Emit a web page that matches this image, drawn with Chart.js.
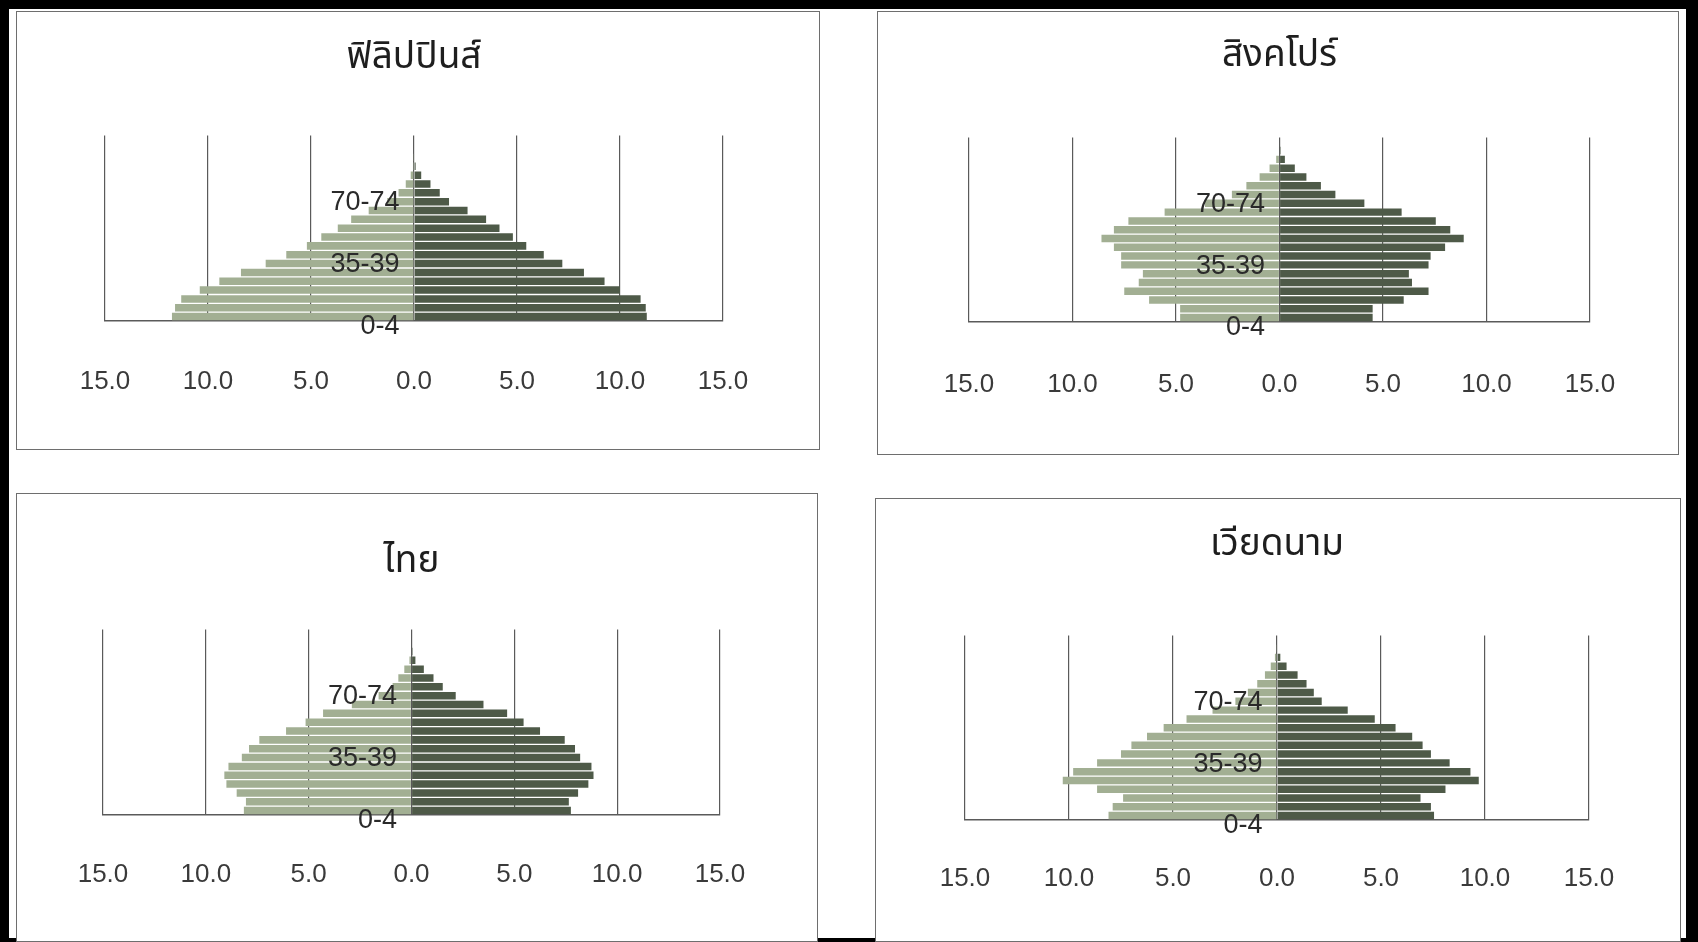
<!DOCTYPE html>
<html lang="th">
<head>
<meta charset="utf-8">
<title>Population pyramids</title>
<script src="https://cdn.jsdelivr.net/npm/chart.js@4.4.1/dist/chart.umd.min.js"></script>
<style>
  html, body { margin: 0; padding: 0; background: #fff; }
  body { width: 1698px; height: 942px; position: relative; overflow: hidden; }
  .frame { position: absolute; left: 0; top: 0; width: 1698px; height: 942px; box-sizing: border-box;
           border: 9px solid #000; border-right-width: 12px; border-bottom-width: 4px; }
  .panel { position: absolute; box-sizing: border-box; border: 1.5px solid #6e6e6e; background: #fff; }
  .chart { position: absolute; }
</style>
</head>
<body>
<div class="frame"></div>
<div class="panel" style="left:16px;top:11px;width:804px;height:439px"></div>
<div class="panel" style="left:877px;top:11px;width:802px;height:444px"></div>
<div class="panel" style="left:16px;top:493px;width:802px;height:449px"></div>
<div class="panel" style="left:875px;top:498px;width:806px;height:444px"></div>

<div class="chart" style="left:16px;top:11px;width:804px;height:439px"><canvas id="phChart"></canvas></div>
<div class="chart" style="left:877px;top:11px;width:802px;height:444px"><canvas id="sgChart"></canvas></div>
<div class="chart" style="left:16px;top:493px;width:802px;height:447px"><canvas id="thChart"></canvas></div>
<div class="chart" style="left:875px;top:498px;width:806px;height:442px"><canvas id="vnChart"></canvas></div>

<script>
const ageGroups = ['0-4', '5-9', '10-14', '15-19', '20-24', '25-29', '30-34', '35-39', '40-44', '45-49',
    '50-54', '55-59', '60-64', '65-69', '70-74', '75-79', '80-84', '85-89', '90-94', '95-99', '100+'];

const xTicks = [-15, -10, -5, 0, 5, 10, 15];

// percent of population, left side / right side, from 0-4 upwards
const philippinesLeft = [11.75, 11.6, 11.3, 10.4, 9.45, 8.4, 7.2, 6.2, 5.2, 4.5, 3.7, 3.05, 2.2, 1.3, 0.75, 0.4, 0.16, 0.05, 0.02, 0, 0];
const philippinesRight = [11.3, 11.25, 11.0, 10.0, 9.25, 8.25, 7.2, 6.3, 5.45, 4.8, 4.15, 3.5, 2.6, 1.7, 1.25, 0.8, 0.35, 0.08, 0.03, 0, 0];

const singaporeLeft = [4.8, 4.8, 6.3, 7.5, 6.8, 6.6, 7.65, 7.65, 8.0, 8.6, 8.0, 7.3, 5.55, 3.6, 2.3, 1.6, 0.96, 0.48, 0.16, 0.03, 0];
const singaporeRight = [4.5, 4.5, 6.0, 7.2, 6.4, 6.25, 7.2, 7.3, 8.0, 8.9, 8.25, 7.55, 5.9, 4.1, 2.7, 2.0, 1.3, 0.74, 0.26, 0.05, 0];

const thailandLeft = [8.15, 8.05, 8.5, 9.0, 9.1, 8.9, 8.25, 7.9, 7.4, 6.1, 5.15, 4.3, 2.9, 1.6, 0.92, 0.64, 0.35, 0.1, 0.03, 0, 0];
const thailandRight = [7.75, 7.65, 8.1, 8.6, 8.85, 8.75, 8.2, 7.95, 7.45, 6.25, 5.45, 4.65, 3.5, 2.15, 1.52, 1.07, 0.6, 0.19, 0.05, 0, 0];

const vietnamLeft = [8.1, 7.9, 7.4, 8.65, 10.3, 9.8, 8.65, 7.5, 7.0, 6.25, 5.45, 4.35, 3.1, 2.0, 1.4, 0.95, 0.58, 0.3, 0.1, 0.02, 0];
const vietnamRight = [7.55, 7.4, 6.9, 8.1, 9.7, 9.3, 8.3, 7.4, 7.0, 6.5, 5.7, 4.7, 3.4, 2.15, 1.77, 1.42, 0.99, 0.46, 0.16, 0.03, 0];

const thaiFont = "'Noto Sans Thai', 'Noto Sans Thai UI', Loma, Garuda, Norasi, 'Noto Sans', sans-serif";

function makePyramid(id, title, leftData, rightData, pad, titlePad, tickPad) {
    const ctx = document.getElementById(id).getContext('2d');
    return new Chart(ctx, {
        type: 'bar',
        data: {
            labels: ageGroups,
            datasets: [{
                label: 'ชาย',
                data: leftData.map(v => -v),
                backgroundColor: '#a2af93',
                barPercentage: 0.85,
                categoryPercentage: 1.0
            }, {
                label: 'หญิง',
                data: rightData,
                backgroundColor: '#4e5a48',
                barPercentage: 0.85,
                categoryPercentage: 1.0
            }]
        },
        options: {
            indexAxis: 'y',
            responsive: true,
            maintainAspectRatio: false,
            animation: false,
            layout: { padding: pad },
            plugins: {
                legend: { display: false },
                tooltip: { enabled: false },
                title: {
                    display: true,
                    text: title,
                    color: '#1e1e1e',
                    font: { family: thaiFont, size: 37, weight: 'normal' },
                    padding: titlePad
                }
            },
            scales: {
                x: {
                    type: 'linear',
                    stacked: true,
                    min: -15,
                    max: 15,
                    afterBuildTicks: (scale) => { scale.ticks = xTicks.map(v => ({ value: v })); },
                    afterFit: (scale) => { scale.height = 70; },
                    grid: { color: '#5a5a5a', lineWidth: 1.2, drawTicks: false },
                    border: { display: true, color: '#5a5a5a', width: 1.5 },
                    ticks: {
                        padding: tickPad,
                        color: '#3a3a3a',
                        font: { family: "'Liberation Sans', Arial, sans-serif", size: 26 },
                        callback: (v) => Math.abs(v).toFixed(1)
                    }
                },
                y: {
                    type: 'category',
                    stacked: true,
                    reverse: true,
                    position: { x: -0.7 },
                    grid: { display: false },
                    border: { display: false },
                    ticks: {
                        z: 1,
                        autoSkip: false,
                        padding: 0,
                        labelOffset: 10,
                        color: '#2a2a2a',
                        font: { family: "'Liberation Sans', Arial, sans-serif", size: 27 },
                        callback: (v, i) => (i % 7 === 0 ? ageGroups[i] : '')
                    }
                }
            }
        }
    });
}

makePyramid('phChart', 'ฟิลิปปินส์', philippinesLeft, philippinesRight,
    { left: 89, right: 97, top: 0, bottom: 59 }, { top: 27, bottom: 53 }, 45);
makePyramid('sgChart', 'สิงคโปร์', singaporeLeft, singaporeRight,
    { left: 92, right: 89, top: 0, bottom: 63 }, { top: 25, bottom: 57 }, 47);
makePyramid('thChart', 'ไทย', thailandLeft, thailandRight,
    { left: 87, right: 98, top: 0, bottom: 55 }, { top: 49, bottom: 43 }, 44);
makePyramid('vnChart', 'เวียดนาม', vietnamLeft, vietnamRight,
    { left: 90, right: 92, top: 0, bottom: 50 }, { top: 27, bottom: 66 }, 43);
</script>
</body>
</html>
